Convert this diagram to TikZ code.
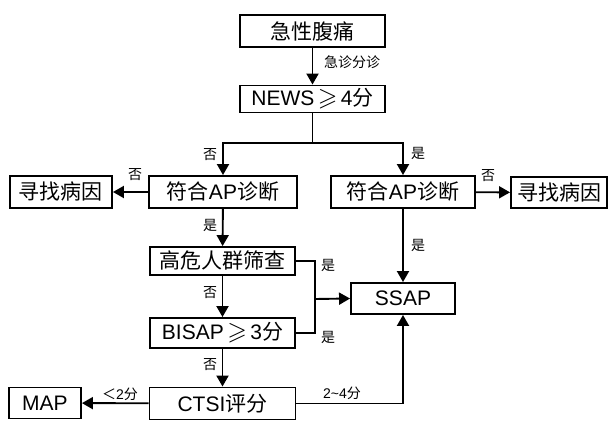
\documentclass[tikz,border=0pt]{standalone}
\usepackage{amssymb}
\usepackage{graphicx}
\usepackage{fontspec}
\setmainfont{Noto Sans CJK SC}
\newfontfamily\lat{Liberation Sans}
\usetikzlibrary{arrows.meta}
\newcommand\geqs{\,\raisebox{0em}{\scalebox{1.2}{$\geqslant$}}\,}
\tikzset{
  box/.style={draw, line width=1.9pt, rectangle, inner sep=0pt, font=\fontsize{21}{21}\selectfont},
  lbl/.style={inner sep=0pt, font=\fontsize{14}{14}\selectfont},
  link/.style={line width=1.9pt},
  arr/.style={line width=1.9pt, -{Triangle[length=11pt,width=12pt]}}
}
\begin{document}
\begin{tikzpicture}[x=1pt,y=-1pt]
\useasboundingbox (0,0) rectangle (608,422);
% boxes
\node[box, minimum width=145pt, minimum height=32pt] (A) at (312.5,31) {急性腹痛};
\node[box, minimum width=145pt, minimum height=27pt] (B) at (312.5,99) {{\lat NEWS}\geqs{\lat 4}分};
\node[box, minimum width=148pt, minimum height=32pt] (C) at (223,192) {符合{\lat AP}诊断};
\node[box, minimum width=102pt, minimum height=32pt] (D) at (61,192) {寻找病因};
\node[box, minimum width=144pt, minimum height=32pt] (E) at (403,192) {符合{\lat AP}诊断};
\node[box, minimum width=96pt, minimum height=31pt] (F) at (559,192.5) {寻找病因};
\node[box, minimum width=145pt, minimum height=28pt] (G) at (222.5,261) {高危人群筛查};
\node[box, minimum width=145pt, minimum height=30pt] (H) at (222.5,333) {{\lat BISAP}\geqs{\lat 3}分};
\node[box, minimum width=146pt, minimum height=32pt] (I) at (222.5,403.5) {{\lat CTSI}评分};
\node[box, minimum width=72pt, minimum height=31pt] (J) at (45,403) {\lat MAP};
\node[box, minimum width=104pt, minimum height=31pt] (K) at (403,298.5) {\lat SSAP};
% junctions
\coordinate (jB) at (312.5,143);
\coordinate (jS) at (315,299);
% connectors
\draw[arr] (A) -- (B);
\draw[link] (B) -- (jB);
\draw[arr] (jB) -| (C.north);
\draw[arr] (jB) -| (E.north);
\draw[arr] (C) -- (D);
\draw[arr] (E) -- (F);
\draw[arr] (C) -- (G);
\draw[arr] (E) -- (K);
\draw[arr] (G) -- (H);
\draw[arr] (H) -- (I);
\draw[arr] (I) -- (J);
\draw[link] (G.east) -| (jS) |- (H.east);
\draw[arr] (jS) -- (K.west);
\draw[arr] (I.east) -| (K.south);
% labels
\node[lbl] (l1) at (352,62) {急诊分诊};
\node[lbl] (l2) at (210,155) {否};
\node[lbl] (l3) at (418,153) {是};
\node[lbl] (l4) at (135,175) {否};
\node[lbl] (l5) at (488,176) {否};
\node[lbl] (l6) at (210,225) {是};
\node[lbl] (l7) at (418,245) {是};
\node[lbl] (l8) at (328,265) {是};
\node[lbl] (l9) at (328,337) {是};
\node[lbl] (l10) at (210,293) {否};
\node[lbl] (l11) at (210,365) {否};
\node[lbl] (l12) at (120,394) {＜{\lat 2}分};
\node[lbl] (l13) at (342,393) {{\lat 2\char`~4}分};
\end{tikzpicture}
\end{document}
